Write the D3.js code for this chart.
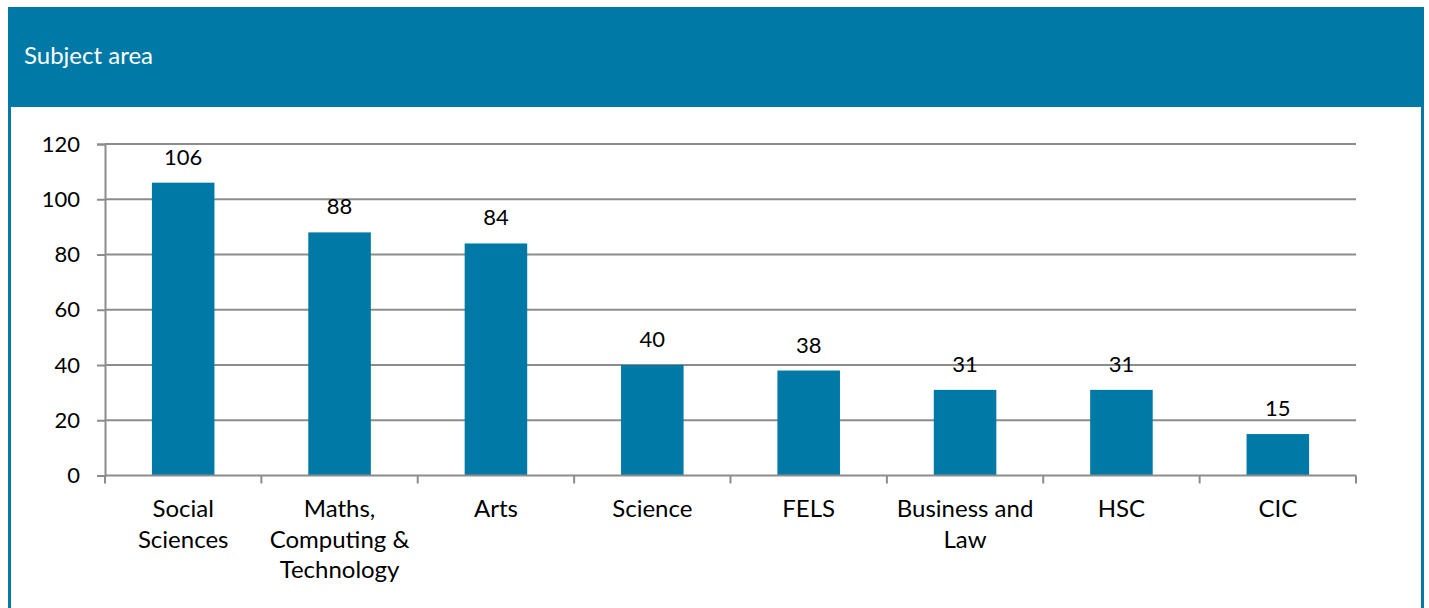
<!DOCTYPE html>
<html>
<head>
<meta charset="utf-8">
<script src="https://cdn.jsdelivr.net/npm/d3@7"></script>
<style>
  body { margin: 0; background: #fff; }
  svg { display: block; }
  text { font-family: Lato, "Open Sans", sans-serif; fill: #000; }
</style>
</head>
<body>
<div id="chart"></div>
<script>
// data
const categories = ['Social Sciences', 'Maths, Computing & Technology', 'Arts', 'Science', 'FELS', 'Business and Law', 'HSC', 'CIC'];
const labelLines = [['Social', 'Sciences'], ['Maths,', 'Computing &', 'Technology'], ['Arts'], ['Science'], ['FELS'], ['Business and', 'Law'], ['HSC'], ['CIC']];
const values = [106, 88, 84, 40, 38, 31, 31, 15];
const yTicks = [0, 20, 40, 60, 80, 100, 120];
const title = 'Subject area';

const width = 1429, height = 608;
const teal = '#0079a6';
const gridColor = '#8c8c8c';
const textSize = 24;   // words
const numSize = 22;    // digits

const svg = d3.select('#chart').append('svg')
  .attr('width', width)
  .attr('height', height);

// frame + header band
svg.append('rect')
  .attr('x', 8).attr('y', 7)
  .attr('width', 1416).attr('height', height)
  .style('fill', teal);
svg.append('rect')
  .attr('x', 11).attr('y', 107)
  .attr('width', 1410).attr('height', height)
  .style('fill', '#fff');
svg.append('text')
  .attr('x', 24).attr('y', 64)
  .style('font-size', textSize + 'px')
  .style('fill', '#fff')
  .text(title);

const x0 = 105, x1 = 1356, yTop = 144, yBottom = 475.5;

const xScale = d3.scaleBand().domain(categories).range([x0, x1]).paddingInner(0.6).paddingOuter(0.3);
const yScale = d3.scaleLinear().domain([0, 120]).range([yBottom, yTop]);
// band edges for the x ticks
const step = (x1 - x0) / categories.length;

// gridlines
svg.append('g').selectAll('line').data(yTicks.filter(d => d > 0)).enter().append('line')
  .attr('x1', x0).attr('x2', x1)
  .attr('y1', d => yScale(d)).attr('y2', d => yScale(d))
  .style('stroke', gridColor).style('stroke-width', 2);

// y axis
const yAxis = svg.append('g')
  .attr('transform', `translate(${x0},0)`)
  .call(d3.axisLeft(yScale).tickValues(yTicks).tickSize(8).tickPadding(17));
yAxis.select('.domain').style('stroke', gridColor).style('stroke-width', 2);
yAxis.selectAll('.tick line').style('stroke', gridColor).style('stroke-width', 2);
yAxis.selectAll('.tick text')
  .style('font-size', numSize + 'px')
  .style('font-family', 'Lato, "Open Sans", sans-serif')
  .style('fill', '#000');

// bars
svg.append('g').selectAll('rect').data(values).enter().append('rect')
  .attr('x', (d, i) => xScale(categories[i]))
  .attr('y', d => yScale(d))
  .attr('width', xScale.bandwidth())
  .attr('height', d => yBottom - yScale(d))
  .style('fill', teal);

// x axis line + ticks at band edges
svg.append('line')
  .attr('x1', x0).attr('x2', x1)
  .attr('y1', yBottom).attr('y2', yBottom)
  .style('stroke', gridColor).style('stroke-width', 2);
svg.append('g').selectAll('line').data(d3.range(categories.length + 1)).enter().append('line')
  .attr('x1', i => x0 + i * step).attr('x2', i => x0 + i * step)
  .attr('y1', yBottom).attr('y2', yBottom + 8)
  .style('stroke', gridColor).style('stroke-width', 2);

// value labels
svg.append('g').selectAll('text').data(values).enter().append('text')
  .attr('x', (d, i) => xScale(categories[i]) + xScale.bandwidth() / 2)
  .attr('y', d => yScale(d) - 18)
  .attr('text-anchor', 'middle')
  .style('font-size', numSize + 'px')
  .text(d => d);

// category labels
const catLabels = svg.append('g').selectAll('text').data(labelLines).enter().append('text')
  .attr('text-anchor', 'middle')
  .style('font-size', textSize + 'px');
catLabels.each(function(lines, i) {
  const cx = xScale(categories[i]) + xScale.bandwidth() / 2;
  d3.select(this).selectAll('tspan').data(lines).enter().append('tspan')
    .attr('x', cx)
    .attr('y', (l, j) => 517 + j * 30.5)
    .text(l => l);
});
</script>
</body>
</html>
